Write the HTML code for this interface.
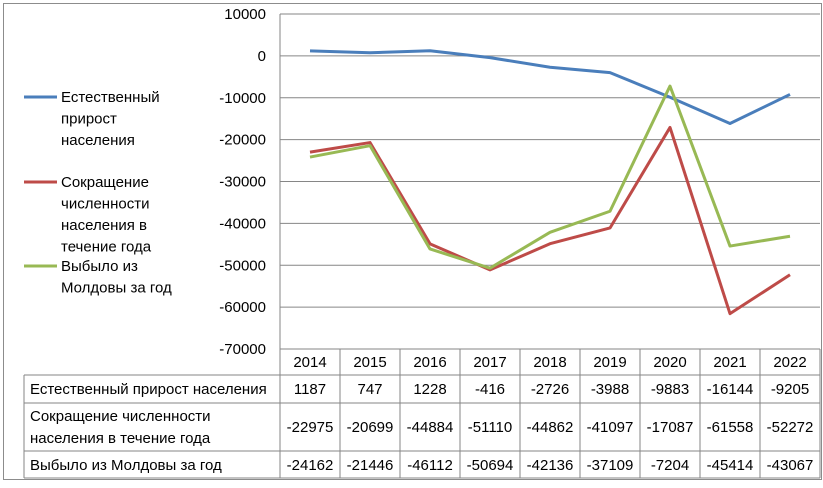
<!DOCTYPE html>
<html><head><meta charset="utf-8"><style>
body{margin:0;background:#fff;}
svg text{font-family:"Liberation Sans",sans-serif;font-size:15px;fill:#000;}
</style></head><body>
<svg id="c" width="823" height="483">
<rect x="3.5" y="3.5" width="818" height="476" fill="#fff" stroke="#8c8c8c"/>
<g id="grid"></g><g id="lines"></g><g id="legend"></g><g id="table"></g>
</svg>
<script>
const years=["2014","2015","2016","2017","2018","2019","2020","2021","2022"];
const natural=[1187,747,1228,-416,-2726,-3988,-9883,-16144,-9205];
const decline=[-22975,-20699,-44884,-51110,-44862,-41097,-17087,-61558,-52272];
const emigrated=[-24162,-21446,-46112,-50694,-42136,-37109,-7204,-45414,-43067];
const yTicks=[10000,0,-10000,-20000,-30000,-40000,-50000,-60000,-70000];
const colors=["#4a7ebb","#be4b48","#98b954"];
const ns="http://www.w3.org/2000/svg";
const L=280,R=820,T=14,B=349,cw=(R-L)/years.length;
const y=v=>T+(10000-v)/80000*(B-T);
const x=i=>L+cw*(i+0.5);
function el(tag,attrs,parent,txt){const e=document.createElementNS(ns,tag);for(const k in attrs)e.setAttribute(k,attrs[k]);if(txt!==undefined)e.textContent=txt;parent.appendChild(e);return e;}
const g=document.getElementById('grid');
yTicks.forEach(t=>{
 const ln=el('line',{x1:L,x2:R,y1:y(t),y2:y(t),stroke:'#868686'},g);
 
 
 const tx=el('text',{x:266,y:y(t)+5,'text-anchor':'end'},g,String(t));
 
 
});
const ax=el('line',{x1:L,x2:L,y1:T,y2:B,stroke:'#868686'},g);


const lg=document.getElementById('lines');
[natural,decline,emigrated].forEach((s,k)=>{
 const p=el('polyline',{points:s.map((v,i)=>x(i)+','+y(v)).join(' '),fill:'none',stroke:colors[k],'stroke-width':3,'stroke-linejoin':'round'},lg);
 
 
});
const leg=document.getElementById('legend');
const legLines=[["Естественный","прирост","населения"],["Сокращение","численности","населения в","течение года"],["Выбыло из","Молдовы за год"]];
const legY=[97,182,266];
legLines.forEach((ls,k)=>{
 const ln=el('line',{x1:24,x2:57,y1:legY[k],y2:legY[k],stroke:colors[k],'stroke-width':3},leg);
 
 
 ls.forEach((t,j)=>{
  const tx=el('text',{x:61,y:(k==0?102:k==1?187:271)+(j*21.5)},leg,t);
  
  
 });
});
const tb=document.getElementById('table');
const rows=[349,375,403,451,478];
const TL=24;
[[L,R,rows[0]],[TL,R,rows[1]],[TL,R,rows[2]],[TL,R,rows[3]],[TL,R,rows[4]]].forEach(r=>{
 const l=el('line',{x1:r[0],x2:r[1],y1:r[2],y2:r[2],stroke:'#868686'},tb);
 
 
});
for(let i=0;i<=years.length;i++){
 const l=el('line',{x1:L+cw*i,x2:L+cw*i,y1:rows[0],y2:rows[4],stroke:'#868686'},tb);
 
 
}
const l0=el('line',{x1:TL,x2:TL,y1:rows[1],y2:rows[4],stroke:'#868686'},tb);


years.forEach((yr,i)=>{
 const t=el('text',{x:x(i),y:367,'text-anchor':'middle'},tb,yr);
 
 
});
const rowLabels=[["Естественный  прирост населения"],["Сокращение  численности","населения  в течение года"],["Выбыло из Молдовы за год"]];
const rowTextY=[[394],[421,443],[470]];
const valY=[394,432,470];
[natural,decline,emigrated].forEach((s,k)=>{
 rowLabels[k].forEach((t,j)=>{
  const tx=el('text',{x:30,y:rowTextY[k][j],'xml:space':'preserve'},tb,t);
  
  
 });
 s.forEach((v,i)=>{
  const tx=el('text',{x:x(i),y:valY[k],'text-anchor':'middle'},tb,String(v));
  
  
 });
});
</script>
</body></html>
